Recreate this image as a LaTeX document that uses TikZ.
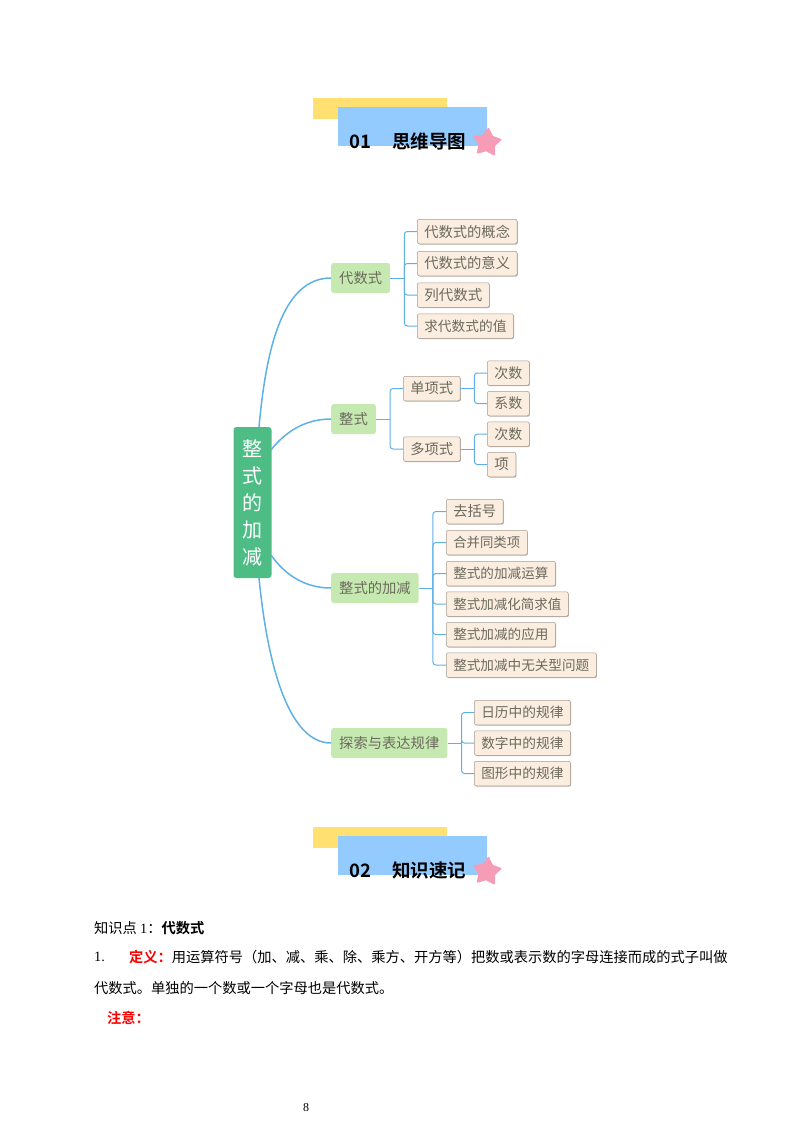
\documentclass[tikz,border=0pt]{standalone}
\usepackage{fontspec}
\setmainfont{Liberation Serif}
\newfontfamily\cjk[BoldFont={Noto Sans CJK SC Bold}]{Noto Sans CJK SC}
\usetikzlibrary{shapes.geometric,shadows}
\definecolor{rootgreen}{HTML}{4DBD85}
\definecolor{midgreen}{HTML}{C6E9B1}
\definecolor{leafbg}{HTML}{FBEDE0}
\definecolor{leafline}{HTML}{A89C90}
\definecolor{inktext}{HTML}{6B6A5C}
\definecolor{linkblue}{HTML}{5FB0E5}
\definecolor{barblue}{HTML}{93CBFF}
\definecolor{baryellow}{HTML}{FFE070}
\definecolor{starpink}{HTML}{F79CB6}
\tikzset{
	leaf/.style={anchor=west, fill=leafbg, draw=leafline, line width=0.5pt, rounded corners=2pt, inner xsep=7pt, inner ysep=0pt, minimum height=24.5pt, text=inktext, font=\cjk\fontsize{#1}{16}\selectfont, drop shadow={shadow xshift=0.7pt, shadow yshift=-0.8pt, fill=leafline, opacity=0.8}},
	leaf/.default=14.3,
	midnode/.style={anchor=west, fill=midgreen, rounded corners=2.5pt, inner xsep=8pt, inner ysep=0pt, minimum height=30pt, text=inktext, font=\cjk\fontsize{14.3}{16}\selectfont},
	rootnode/.style={fill=rootgreen, rounded corners=3pt, inner sep=0pt, minimum width=38pt, minimum height=151pt, align=center, text=white, font=\cjk\fontsize{20}{27}\selectfont},
	branch/.style={draw=linkblue, line width=1pt, rounded corners=3pt},
	curvelink/.style={draw=linkblue, line width=1.5pt},
	titletxt/.style={anchor=west, inner sep=0pt, text=black, font=\cjk\bfseries\fontsize{18.5}{20}\selectfont},
	startag/.style={star, star points=5, star point ratio=1.75, fill=starpink, draw=starpink, line width=1.5pt, line join=round, inner sep=0pt, minimum size=28pt, rotate=-6},
	bodytxt/.style={anchor=west, inner sep=0pt, text=black, font=\cjk\fontsize{14.25}{16}\selectfont}
}
\begin{document}
\begin{tikzpicture}[x=1pt, y=-1pt]
	\useasboundingbox (0, 0) rectangle (800, 1132);
	% title bars
	\foreach \dy/\nm/\txt in {0/titleA/{01\hspace{21pt}思维导图}, 729/titleB/{02\hspace{21pt}知识速记}} {
		\fill[baryellow] (313, 98+\dy) rectangle (447, 118.5+\dy);
		\fill[barblue] (338, 106.5+\dy) rectangle (487, 146+\dy);
		\node[startag] (star\nm) at (487, 142.5+\dy) {};
		\node[titletxt] (\nm) at (349, 141+\dy) {\txt};
	}
	% mind map
	\node[rootnode] (root) at (252.5, 502.5) {整\\式\\的\\加\\减};
	\node[midnode] (dsh) at (331, 278) {代数式};
	\node[midnode] (zs) at (331, 419) {整式};
	\node[midnode] (jj) at (331, 588) {整式的加减};
	\node[midnode] (gl) at (331, 743) {探索与表达规律};
	\node[leaf] (dan) at (403, 388.5) {单项式};
	\node[leaf] (duo) at (403, 449) {多项式};
	\foreach \nm/\yy/\fs/\txt in {dA/231.5/14.3/代数式的概念, dB/263.5/14.3/代数式的意义, dC/295/14.5/列代数式, dD/326/13.7/求代数式的值}
		\node[leaf=\fs] (\nm) at (417, \yy) {\txt};
	\foreach \nm/\yy/\fs/\txt in {sA/373/14/次数, sB/403.5/14/系数, sC/434/14/次数, sD/464.5/14.5/项}
		\node[leaf=\fs] (\nm) at (487, \yy) {\txt};
	\foreach \nm/\yy/\fs/\txt in {jA/511.5/14.3/去括号, jB/542.5/13.4/合并同类项, jC/573.5/13.6/整式的加减运算, jD/604/13.5/整式加减化简求值, jE/634.5/13.6/整式加减的应用, jF/665/13.6/整式加减中无关型问题}
		\node[leaf=\fs] (\nm) at (446, \yy) {\txt};
	\foreach \nm/\yy/\txt in {gA/712.5/日历中的规律, gB/743/数字中的规律, gC/773.5/图形中的规律}
		\node[leaf=13.7] (\nm) at (474, \yy) {\txt};
	% curved links
	\coordinate (rootA) at (259, 427);
	\coordinate (rootB) at (271, 450);
	\coordinate (rootC) at (271, 555);
	\coordinate (rootD) at (259, 578);
	\draw[curvelink] (rootA) .. controls (266, 350) and (282, 278) .. (dsh.west);
	\draw[curvelink] (rootB) .. controls (285, 432) and (305, 419) .. (zs.west);
	\draw[curvelink] (rootC) .. controls (285, 575) and (305, 588) .. (jj.west);
	\draw[curvelink] (rootD) .. controls (268, 670) and (290, 743) .. (gl.west);
	% branches
	\foreach \pa/\kids in {dsh/{dA, dB, dC, dD}, zs/{dan, duo}, dan/{sA, sB}, duo/{sC, sD}, jj/{jA, jB, jC, jD, jE, jF}, gl/{gA, gB, gC}} {
		\draw[branch] (\pa.east) -- ++(14, 0);
		\foreach \nm in \kids
			\draw[branch] (\pa.east) ++(14, 0) |- (\nm.west);
	}
	% text below
	\node[bodytxt] (kp) at (94, 928) {知识点 {\rmfamily 1}：\textbf{代数式}};
	\node[bodytxt] (numA) at (94, 957) {\rmfamily 1.};
	\node[bodytxt] (defn) at (129, 957) {\textcolor{red}{\textbf{定义：}}用运算符号（加、减、乘、除、乘方、开方等）把数或表示数的字母连接而成的式子叫做};
	\node[bodytxt] (defnB) at (94, 988) {代数式。单独的一个数或一个字母也是代数式。};
	\node[bodytxt] (note) at (107, 1018) {\textcolor{red}{\textbf{注意：}}};
	\node[bodytxt] (page) at (303, 1108) {\rmfamily\fontsize{12}{14}\selectfont 8};
\end{tikzpicture}
\end{document}
